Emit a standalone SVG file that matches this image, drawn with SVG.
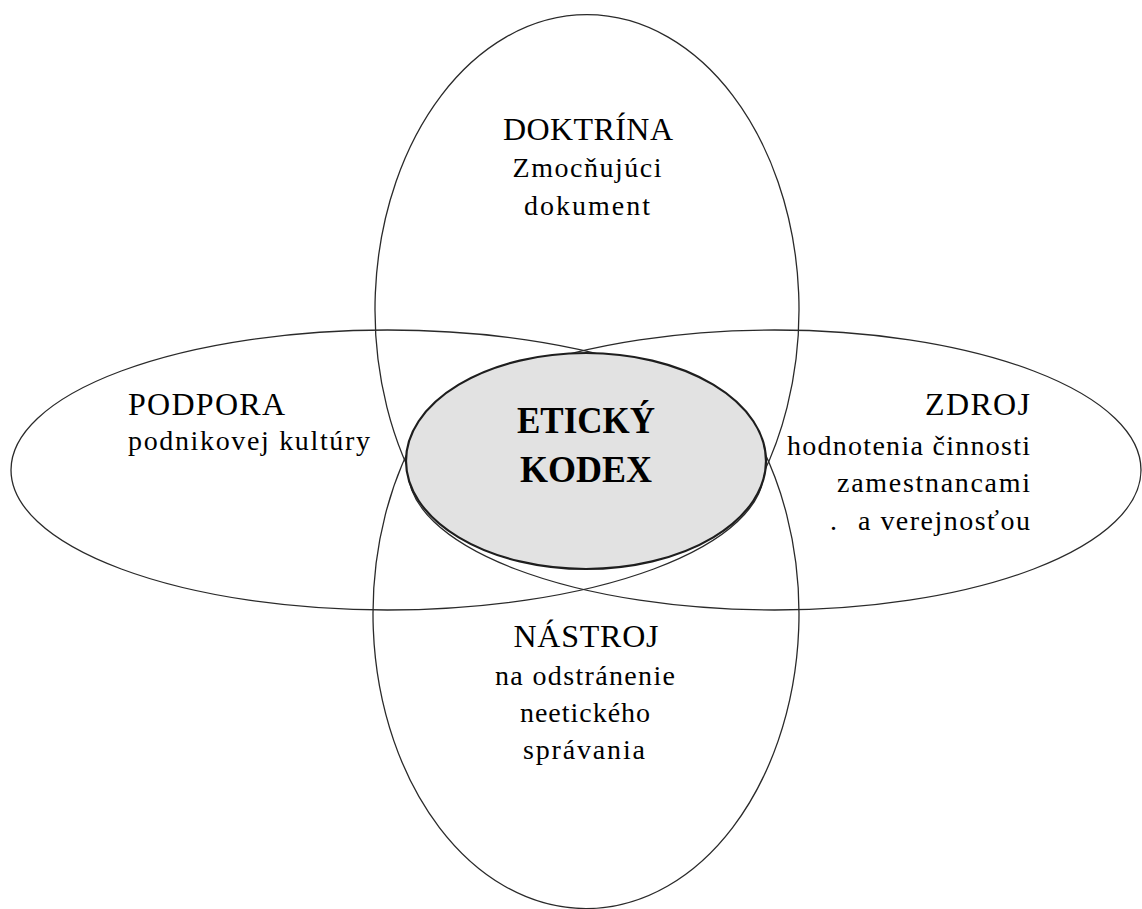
<svg xmlns="http://www.w3.org/2000/svg" width="1142" height="909" viewBox="0 0 1142 909">
<style>
.ring{fill:none;stroke:#2a2a2a;stroke-width:1.3}
.core{fill:#e2e2e2;stroke:#1e1e1e;stroke-width:2.2}
</style>
<rect width="1142" height="909" fill="#ffffff"/>
<g id="connectors"></g>
<g id="doktrina">
<path class="ring" d="M 425 500 A 212 295 0 1 1 749 500"/>
<text x="588" y="140" text-anchor="middle" font-family="serif" font-size="32" textLength="170" lengthAdjust="spacing">DOKTRÍNA</text>
<text x="587" y="177" text-anchor="middle" font-family="serif" font-size="28" textLength="149" lengthAdjust="spacing">Zmocňujúci</text>
<text x="587" y="215" text-anchor="middle" font-family="serif" font-size="28" textLength="126" lengthAdjust="spacing">dokument</text>
</g>
<g id="nastroj">
<path class="ring" d="M 424 422 A 213 295 0 1 0 748 422"/>
<text x="586" y="647" text-anchor="middle" font-family="serif" font-size="32" textLength="145" lengthAdjust="spacing">NÁSTROJ</text>
<text x="585" y="685" text-anchor="middle" font-family="serif" font-size="28" textLength="180" lengthAdjust="spacing">na odstránenie</text>
<text x="585" y="722" text-anchor="middle" font-family="serif" font-size="28" textLength="130" lengthAdjust="spacing">neetického</text>
<text x="584" y="759" text-anchor="middle" font-family="serif" font-size="28" textLength="122" lengthAdjust="spacing">správania</text>
</g>
<g id="podpora">
<ellipse class="ring" cx="387.5" cy="470" rx="376.5" ry="140"/>
<text x="128" y="415" font-family="serif" font-size="32" textLength="157" lengthAdjust="spacing">PODPORA</text>
<text x="128" y="450" font-family="serif" font-size="28" textLength="242" lengthAdjust="spacing">podnikovej kultúry</text>
</g>
<g id="zdroj">
<ellipse class="ring" cx="774.5" cy="470" rx="366.5" ry="140"/>
<text x="1030" y="415" text-anchor="end" font-family="serif" font-size="32" textLength="105" lengthAdjust="spacing">ZDROJ</text>
<text x="1030" y="455" text-anchor="end" font-family="serif" font-size="28" textLength="243" lengthAdjust="spacing">hodnotenia činnosti</text>
<text x="1030" y="492" text-anchor="end" font-family="serif" font-size="28" textLength="193" lengthAdjust="spacing">zamestnancami</text>
<text x="830" y="530" font-family="serif" font-size="28">.</text>
<text x="1030" y="530" text-anchor="end" font-family="serif" font-size="28" textLength="172" lengthAdjust="spacing">a verejnosťou</text>
</g>
<g id="eticky-kodex">
<ellipse class="core" cx="586" cy="461" rx="180" ry="108"/>
<text x="586" y="433" text-anchor="middle" font-family="Liberation Serif" font-size="38" font-weight="bold" textLength="138" lengthAdjust="spacingAndGlyphs">ETICKÝ</text>
<text x="586" y="482" text-anchor="middle" font-family="Liberation Serif" font-size="38" font-weight="bold" textLength="132" lengthAdjust="spacingAndGlyphs">KODEX</text>
</g>
</svg>
